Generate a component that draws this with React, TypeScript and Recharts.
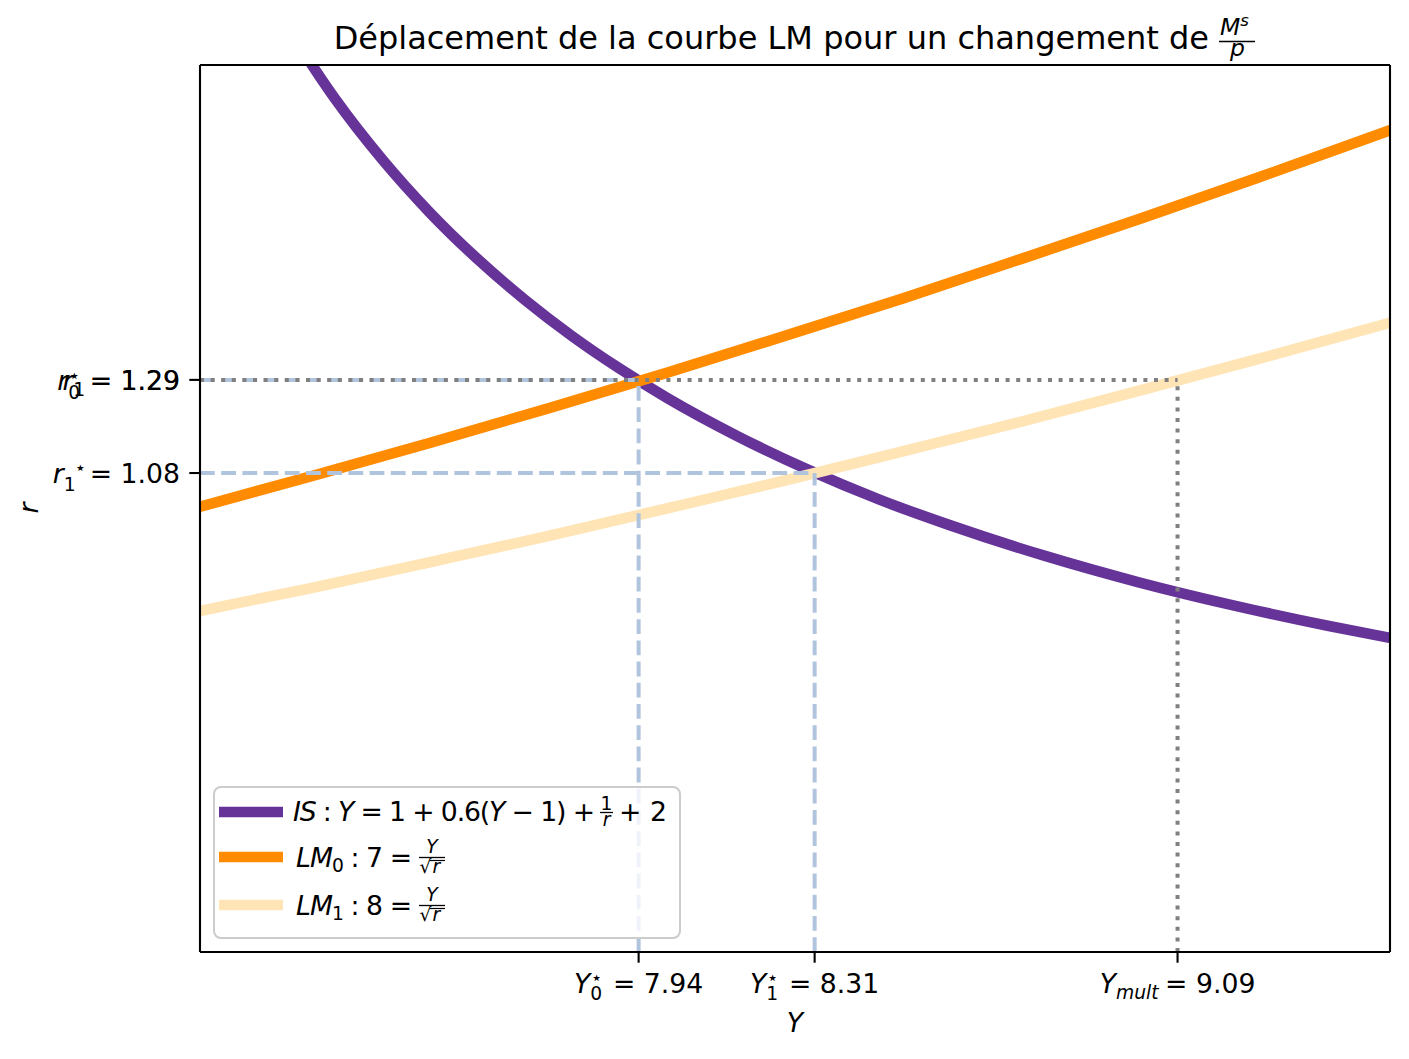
import { LineChart, Line, XAxis, YAxis, ReferenceLine } from 'recharts';

// axis limits
const X_MIN = 7.014;
const X_MAX = 9.529;
const R_MIN = 0;
const R_MAX = 2;

// equilibrium values
const Y0 = 7.941;
const Y1 = 8.313;
const Y_MULT = 9.08;
const R0 = 1.29;
const R1 = 1.08;

const X_TICKS = [Y0, Y1, Y_MULT];
// [base, subscript, superscript, value]
const X_TICK_PARTS = [
    ['Y', '0', '⋆', '7.94'],
    ['Y', '1', '⋆', '8.31'],
    ['Y', 'mult', '', '9.09'],
];
const R_TICKS = [R1, R0];
const R_TICK_VALUES = ['1.08', '1.29'];

// IS : Y = 1 + 0.6(Y - 1) + 1/r + 2
const IS_Y = [7.2, 7.3, 7.4, 7.5, 7.6, 7.7, 7.8, 7.9, 8.0, 8.15, 8.3, 8.45, 8.6, 8.8, 9.0, 9.2, 9.4, 9.55];
const IS_R = [2.083, 1.923, 1.786, 1.667, 1.563, 1.471, 1.389, 1.316, 1.25, 1.163, 1.087, 1.02, 0.962, 0.893, 0.833, 0.781, 0.735, 0.704];

// LM0 : 7 = Y / sqrt(r)
const LM0_Y = [7.0, 7.25, 7.5, 7.75, 8.0, 8.25, 8.5, 8.75, 9.0, 9.25, 9.55];
const LM0_R = [1.0, 1.073, 1.148, 1.226, 1.306, 1.389, 1.474, 1.563, 1.653, 1.746, 1.861];

// LM1 : 8 = Y / sqrt(r)
const LM1_Y = [7.0, 7.25, 7.5, 7.75, 8.0, 8.25, 8.5, 8.75, 9.0, 9.25, 9.55];
const LM1_R = [0.766, 0.821, 0.879, 0.938, 1.0, 1.063, 1.129, 1.196, 1.266, 1.337, 1.425];

const TITLE = 'Déplacement de la courbe LM pour un changement de';

const FONT = '"DejaVu Sans", sans-serif';
const TICK_FS = 26.7;
const SCRIPT_FS = 18.7;

const PURPLE = '#663399';
const ORANGE = '#ff8c00';
const PALE = '#ffe4b5';
const STEEL = '#b0c4de';
const GREY = '#808080';

const toPoints = (ys: number[], rs: number[]) => ys.map((y, i) => ({ Y: y, r: rs[i] }));

const isData = toPoints(IS_Y, IS_R);
const lm0Data = toPoints(LM0_Y, LM0_R);
const lm1Data = toPoints(LM1_Y, LM1_R);

function XTick(props: any) {
    const { x, payload } = props;
    const i = X_TICKS.indexOf(payload.value);
    if (i < 0) return null;
    const [base, sub, sup, val] = X_TICK_PARTS[i];
    const longSub = sub.length > 1;
    return (
        <text x={x} y={993} textAnchor="middle" fontFamily={FONT} fontSize={TICK_FS} fill="#000" style={{ whiteSpace: 'pre' }}>
            <tspan fontStyle="italic">{base}</tspan>
            <tspan fontSize={SCRIPT_FS} dy={sup ? 7 : 6} fontStyle={longSub ? 'italic' : 'normal'}>{sub}</tspan>
            {sup ? <tspan fontSize={SCRIPT_FS} dx={-11.5} dy={-16}>{sup}</tspan> : null}
            <tspan fontSize={TICK_FS} dy={sup ? 9 : -6} dx={sup ? 2 : -2}>{' = ' + val}</tspan>
        </text>
    );
}

function YTick(props: any) {
    const { y, payload } = props;
    const i = R_TICKS.indexOf(payload.value);
    if (i < 0) return null;
    const val = R_TICK_VALUES[i];
    const base = y + 10;
    const common = { x: 180, textAnchor: 'end' as const, fontFamily: FONT, fontSize: TICK_FS, fill: '#000', style: { whiteSpace: 'pre' as const } };
    if (i === 0) {
        return (
            <text {...common} y={base}>
                <tspan fontStyle="italic">r</tspan>
                <tspan fontSize={SCRIPT_FS} dy={8}>1</tspan>
                <tspan fontSize={SCRIPT_FS} dx={-1} dy={-17}>⋆</tspan>
                <tspan fontSize={TICK_FS} dx={-5} dy={9}>{' = ' + val}</tspan>
            </text>
        );
    }
    // two labels sit on the same tick and overlap
    return (
        <g>
            <text {...common} y={base}>
                <tspan fontStyle="italic">r</tspan>
                <tspan fontSize={SCRIPT_FS} dy={9}>0</tspan>
                <tspan fontSize={SCRIPT_FS} dx={-11.5} dy={-17}>⋆</tspan>
                <tspan fontSize={TICK_FS} dx={1} dy={8}>{' = ' + val}</tspan>
            </text>
            <text {...common} y={base}>
                <tspan fontStyle="italic">r</tspan>
                <tspan fontSize={SCRIPT_FS} dy={6}>1</tspan>
                <tspan fontSize={TICK_FS} dx={-4} dy={-6}>{' = ' + val}</tspan>
            </text>
        </g>
    );
}

function SqrtFraction({ cx, barY, num }: { cx: number; barY: number; num: string }) {
    return (
        <g fontFamily={FONT} fill="#000">
            <text x={cx} y={barY - 4.5} textAnchor="middle" fontSize={SCRIPT_FS} fontStyle="italic">{num}</text>
            <line x1={cx - 13} x2={cx + 13} y1={barY} y2={barY} stroke="#000" strokeWidth={1.3} />
            <text x={cx - 12.5} y={barY + 15} fontSize={SCRIPT_FS}>√</text>
            <line x1={cx - 2.5} x2={cx + 13} y1={barY + 3} y2={barY + 3} stroke="#000" strokeWidth={1.2} />
            <text x={cx + 0.5} y={barY + 15} fontSize={SCRIPT_FS} fontStyle="italic">r</text>
        </g>
    );
}

function Annotations() {
    return (
        <g>
            {/* title */}
            <text x={1209} y={49} textAnchor="end" fontFamily={FONT} fontSize={32} fill="#000">{TITLE}</text>
            <text x={1220} y={35} fontFamily={FONT} fontSize={23.5} fill="#000">
                <tspan fontStyle="italic">M</tspan>
                <tspan fontSize={16.5} dy={-9} fontStyle="italic">s</tspan>
            </text>
            <line x1={1219} x2={1255} y1={41.5} y2={41.5} stroke="#000" strokeWidth={1.6} />
            <text x={1237.5} y={56} textAnchor="middle" fontFamily={FONT} fontSize={23.5} fontStyle="italic" fill="#000">p</text>

            {/* axis labels */}
            <text x={795} y={1032} textAnchor="middle" fontFamily={FONT} fontSize={TICK_FS} fontStyle="italic" fill="#000">Y</text>
            <text x={38} y={508} transform="rotate(-90 38 508)" textAnchor="middle" fontFamily={FONT} fontSize={TICK_FS} fontStyle="italic" fill="#000">r</text>
        </g>
    );
}

// drawn as an overlay so that it sits above the reference lines, as in matplotlib
function LegendBox() {
    return (
        <svg width={1409} height={1059} style={{ position: 'absolute', left: 0, top: 0, pointerEvents: 'none' }}>
            <rect x={214} y={787} width={466} height={151} rx={7} fill="#fff" fillOpacity={0.8} stroke="#cccccc" strokeWidth={2} />
            <line x1={219} x2={283} y1={812} y2={812} stroke={PURPLE} strokeWidth={10.7} />
            <line x1={219} x2={283} y1={857} y2={857} stroke={ORANGE} strokeWidth={10.7} />
            <line x1={219} x2={283} y1={905} y2={905} stroke={PALE} strokeWidth={10.7} />

            <text x={293} y={821} fontFamily={FONT} fontSize={TICK_FS} fill="#000" textLength={302} lengthAdjust="spacing" style={{ whiteSpace: 'pre' }}>
                <tspan fontStyle="italic">IS</tspan>
                <tspan>{' : '}</tspan>
                <tspan fontStyle="italic">Y</tspan>
                <tspan>{' = 1 + 0.6('}</tspan>
                <tspan fontStyle="italic">Y</tspan>
                <tspan>{' − 1) +'}</tspan>
            </text>
            <text x={606.5} y={810} textAnchor="middle" fontFamily={FONT} fontSize={SCRIPT_FS} fill="#000">1</text>
            <line x1={600} x2={613} y1={812.5} y2={812.5} stroke="#000" strokeWidth={1.3} />
            <text x={606.5} y={825.5} textAnchor="middle" fontFamily={FONT} fontSize={SCRIPT_FS} fontStyle="italic" fill="#000">r</text>
            <text x={619} y={821} fontFamily={FONT} fontSize={TICK_FS} fill="#000" textLength={48} lengthAdjust="spacing" style={{ whiteSpace: 'pre' }}>+ 2</text>

            <text x={296} y={867} fontFamily={FONT} fontSize={TICK_FS} fill="#000" textLength={116} lengthAdjust="spacing" style={{ whiteSpace: 'pre' }}>
                <tspan fontStyle="italic">LM</tspan>
                <tspan fontSize={SCRIPT_FS} dy={5}>0</tspan>
                <tspan fontSize={TICK_FS} dy={-5}>{' : 7 ='}</tspan>
            </text>
            <SqrtFraction cx={432} barY={857.5} num="Y" />

            <text x={296} y={915} fontFamily={FONT} fontSize={TICK_FS} fill="#000" textLength={116} lengthAdjust="spacing" style={{ whiteSpace: 'pre' }}>
                <tspan fontStyle="italic">LM</tspan>
                <tspan fontSize={SCRIPT_FS} dy={5}>1</tspan>
                <tspan fontSize={TICK_FS} dy={-5}>{' : 8 ='}</tspan>
            </text>
            <SqrtFraction cx={432} barY={905.5} num="Y" />
        </svg>
    );
}

export default function App() {
    const axisStroke = { stroke: '#000', strokeWidth: 2.1 };
    return (
        <div style={{ position: 'absolute', left: 0, top: 0, width: 1409, height: 1059, background: '#fff' }}>
            <LineChart width={1409} height={1059} margin={{ top: 65, right: 19, bottom: 0, left: 0 }}>
                <XAxis
                    type="number"
                    dataKey="Y"
                    domain={[X_MIN, X_MAX]}
                    allowDataOverflow
                    ticks={X_TICKS}
                    interval={0}
                    tick={(p: any) => <XTick {...p} />}
                    tickSize={10.7}
                    height={107}
                    axisLine={axisStroke}
                    tickLine={axisStroke}
                />
                <YAxis
                    type="number"
                    dataKey="r"
                    domain={[R_MIN, R_MAX]}
                    allowDataOverflow
                    ticks={R_TICKS}
                    interval={0}
                    tick={(p: any) => <YTick {...p} />}
                    tickSize={10.7}
                    width={200}
                    axisLine={axisStroke}
                    tickLine={axisStroke}
                />
                <Line data={isData} dataKey="r" type="monotone" stroke={PURPLE} strokeWidth={10.7} dot={false} activeDot={false} isAnimationActive={false} />
                <Line data={lm0Data} dataKey="r" type="monotone" stroke={ORANGE} strokeWidth={10.7} dot={false} activeDot={false} isAnimationActive={false} />
                <Line data={lm1Data} dataKey="r" type="monotone" stroke={PALE} strokeWidth={10.7} dot={false} activeDot={false} isAnimationActive={false} />

                <ReferenceLine segment={[{ x: X_MIN, y: R0 }, { x: Y0, y: R0 }]} stroke={STEEL} strokeWidth={4} strokeDasharray="14.8 6.4" />
                <ReferenceLine segment={[{ x: Y0, y: R_MIN }, { x: Y0, y: R0 }]} stroke={STEEL} strokeWidth={4} strokeDasharray="14.8 6.4" />
                <ReferenceLine segment={[{ x: X_MIN, y: R1 }, { x: Y1, y: R1 }]} stroke={STEEL} strokeWidth={4} strokeDasharray="14.8 6.4" />
                <ReferenceLine segment={[{ x: Y1, y: R_MIN }, { x: Y1, y: R1 }]} stroke={STEEL} strokeWidth={4} strokeDasharray="14.8 6.4" />
                <ReferenceLine segment={[{ x: X_MIN, y: R0 }, { x: Y_MULT, y: R0 }]} stroke={GREY} strokeWidth={4} strokeDasharray="4 6.6" />
                <ReferenceLine segment={[{ x: Y_MULT, y: R_MIN }, { x: Y_MULT, y: R0 }]} stroke={GREY} strokeWidth={4} strokeDasharray="4 6.6" />

                {/* top and right spines */}
                <ReferenceLine y={R_MAX} stroke="#000" strokeWidth={2.1} />
                <ReferenceLine x={X_MAX} stroke="#000" strokeWidth={2.1} />

                <Annotations />
            </LineChart>
            <LegendBox />
        </div>
    );
}
